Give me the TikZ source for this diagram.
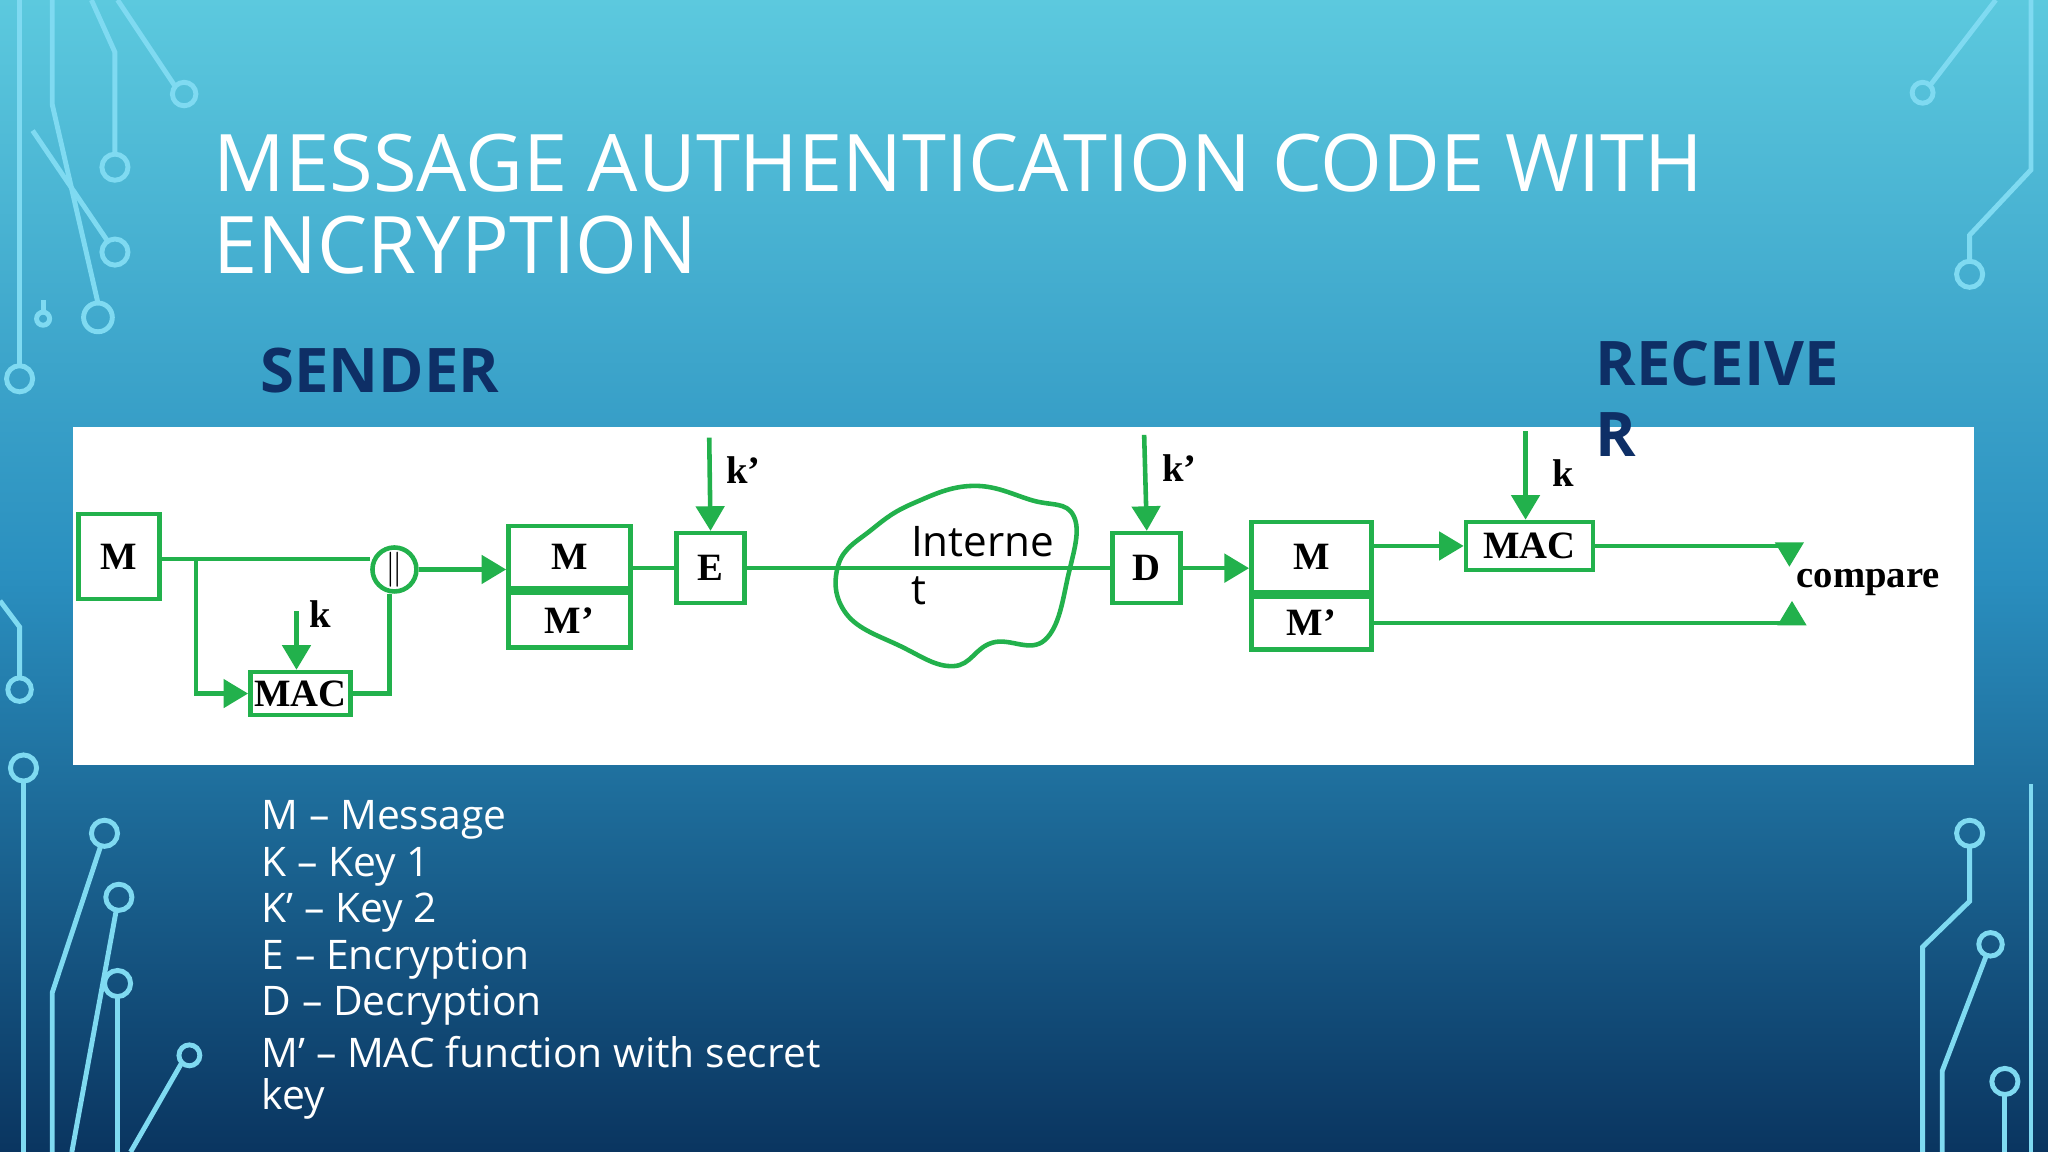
\documentclass[tikz,border=0pt]{standalone}
\usepackage{fontspec}
\setmainfont{Liberation Serif}
\newfontfamily\slidefont[Ligatures=TeX]{Open Sans}
\usetikzlibrary{positioning, arrows.meta}
\definecolor{mgreen}{HTML}{22B14C}
\definecolor{navy}{HTML}{0E2F66}
\definecolor{circuit}{HTML}{5FD0EE}
\definecolor{bgtop}{HTML}{5CC9DE}
\definecolor{bgmid}{HTML}{2A8FBF}
\definecolor{bgbot}{HTML}{0A3560}
\begin{document}
\begin{tikzpicture}[x=0.01306cm, y=-0.01306cm,
    wire/.style={mgreen, line width=1.3pt},
    flow/.style={wire, -{Triangle[length=7pt, width=8pt]}},
    box/.style={draw=mgreen, line width=1.3pt, fill=white, inner sep=0pt, font=\bfseries\fontsize{11}{11}\selectfont},
    keylbl/.style={font=\bfseries\fontsize{11}{11}\selectfont},
    slide/.style={anchor=west, font=\slidefont\fontsize{#1}{#1}\selectfont}]
    \useasboundingbox (0,0) rectangle (1568,882);
    \shade[top color=bgtop, bottom color=bgbot, middle color=bgmid] (0,0) rectangle (1568,882);

    % circuit traces
    \begin{scope}[circuit!80, line width=1.4pt]
        \draw (15,0) -- (15,280);
        \draw (15,290) circle[radius=10];
        \draw (40,0) -- (40,80) -- (75,232);
        \draw (75,243) circle[radius=11];
        \draw (70,0) -- (88,40) -- (88,118);
        \draw (88,128) circle[radius=10];
        \draw (90,0) -- (134,66);
        \draw (141,72) circle[radius=9];
        \draw (25,100) -- (82,184);
        \draw (88,193) circle[radius=10];
        \draw (33,230) -- (33,239);
        \draw (33,244) circle[radius=5];
        \draw (0,460) -- (15,480) -- (15,519);
        \draw (15,528) circle[radius=9];
        \draw (18,598) -- (18,882);
        \draw (18,588) circle[radius=10];
        \draw (40,882) -- (40,760) -- (77,648);
        \draw (80,638) circle[radius=10];
        \draw (55,882) -- (89,697);
        \draw (91,687) circle[radius=10];
        \draw (90,882) -- (90,763);
        \draw (90,753) circle[radius=10];
        \draw (100,882) -- (139,814);
        \draw (145,808) circle[radius=8];
        \draw (1528,0) -- (1478,65);
        \draw (1472,71) circle[radius=8];
        \draw (1555,0) -- (1555,130) -- (1508,180) -- (1508,200);
        \draw (1508,210) circle[radius=10];
        \draw (1508,648) -- (1508,690) -- (1472,725) -- (1472,882);
        \draw (1508,638) circle[radius=10];
        \draw (1521,731) -- (1487,820) -- (1487,882);
        \draw (1524,723) circle[radius=9];
        \draw (1535,828) circle[radius=10];
        \draw (1535,838) -- (1535,882);
        \draw (1555,882) -- (1555,600);
    \end{scope}

    % titles
    \node[slide=22.6, white] (title1) at (154,125) {MESSAGE AUTHENTICATION CODE WITH};
    \node[slide=22.6, white] (title2) at (154,188) {ENCRYPTION};
    \node[slide=18, navy, font=\slidefont\bfseries\fontsize{17.5}{17.5}\selectfont] (sender) at (190,284) {SENDER};
    \node[slide=18, navy, font=\slidefont\bfseries\fontsize{17.5}{17.5}\selectfont] (recv1) at (1212,278) {RECEIVE};

    % white panel
    \fill[white] (56,327) rectangle (1511,586);
    \node[slide=18, navy, font=\slidefont\bfseries\fontsize{17.5}{17.5}\selectfont] (recv2) at (1212,333) {R};

    % sender side
    \node[box, minimum width=0.81cm, minimum height=0.85cm] (m) at (91,426) {M};
    \node[box, minimum width=1.0cm, minimum height=0.43cm] (mac1) at (230,531) {MAC};
    \node[draw=mgreen, line width=1.3pt, circle, minimum size=0.44cm, inner sep=0pt, font=\bfseries] (cat) at (302,436) {$\|$};
    \node[box, minimum width=1.22cm, minimum height=0.62cm, anchor=south] (m1) at (436,452) {M};
    \node[box, minimum width=1.22cm, minimum height=0.55cm, anchor=north] (mp1) at (436,452) {M'};
    \node[box, minimum width=0.68cm, minimum height=0.7cm] (enc) at (544,435) {E};
    \coordinate (ke) at (543,335);
    \coordinate (kmac1) at (227,468);

    \draw[wire] (m.east |- 0,428) -- (cat.west |- 0,428);
    \draw[flow] (150,428) |- (mac1.west);
    \draw[flow] (kmac1) -- (mac1.north -| kmac1);
    \node[keylbl] at (245,470) {k};
    \draw[wire] (mac1.east) -| (cat.south -| 298,0);
    \draw[flow] (cat.east) -- (m1.west |- cat.east);
    \draw[wire] (m1.east |- enc.west) -- (enc.west);
    \draw[flow] (ke) -- (enc.north);
    \node[keylbl] at (569,360) {k'};

    % internet
    \draw[wire] plot[smooth cycle, tension=0.7] coordinates {
        (700,385) (745,372) (790,383) (822,395) (818,440) (800,490)
        (760,492) (730,510) (690,495) (648,470) (642,432) (668,405)};
    \node[box, minimum width=0.68cm, minimum height=0.7cm] (dec) at (878,435) {D};
    \draw[wire] (enc.east) -- (dec.west);
    \node[slide=12] (net1) at (688,415) {Interne};
    \node[slide=12] (net2) at (688,452) {t};
    \coordinate (kd) at (876,333);
    \draw[flow] (kd) -- (dec.north);
    \node[keylbl] at (903,358) {k'};

    % receiver side
    \node[box, minimum width=1.2cm, minimum height=0.7cm, anchor=south] (m2) at (1004,455) {M};
    \node[box, minimum width=1.2cm, minimum height=0.53cm, anchor=north] (mp2) at (1004,455) {M'};
    \node[box, minimum width=1.27cm, minimum height=0.48cm] (mac2) at (1171,418) {MAC};
    \draw[flow] (dec.east) -- (m2.west |- dec.east);
    \draw[flow] (m2.east |- mac2.west) -- (mac2.west);
    \coordinate (kr) at (1168,330);
    \draw[flow] (kr) -- (mac2.north -| kr);
    \node[keylbl] at (1197,362) {k};
    \node[anchor=west, font=\bfseries\fontsize{11}{11}\selectfont] (cmp) at (1366,446) {compare};
    \coordinate (ctop) at (1370,434);
    \coordinate (cbot) at (1372,460);
    \draw[wire] (mac2.east) -- (mac2.east -| ctop);
    \draw[flow] (mac2.east -| ctop) -- (ctop);
    \draw[wire] (mp2.east) -- (mp2.east -| cbot);
    \draw[flow] (mp2.east -| cbot) -- (cbot);

    % legend
    \foreach \txt [count=\i from 0] in {M – Message, K – Key 1, K’ – Key 2, E – Encryption, D – Decryption, M’ – MAC function with secret, key}
        \node[slide=11.6, white] (leg\i) at (191,628+35.5*\i) {\txt};
\end{tikzpicture}
\end{document}
